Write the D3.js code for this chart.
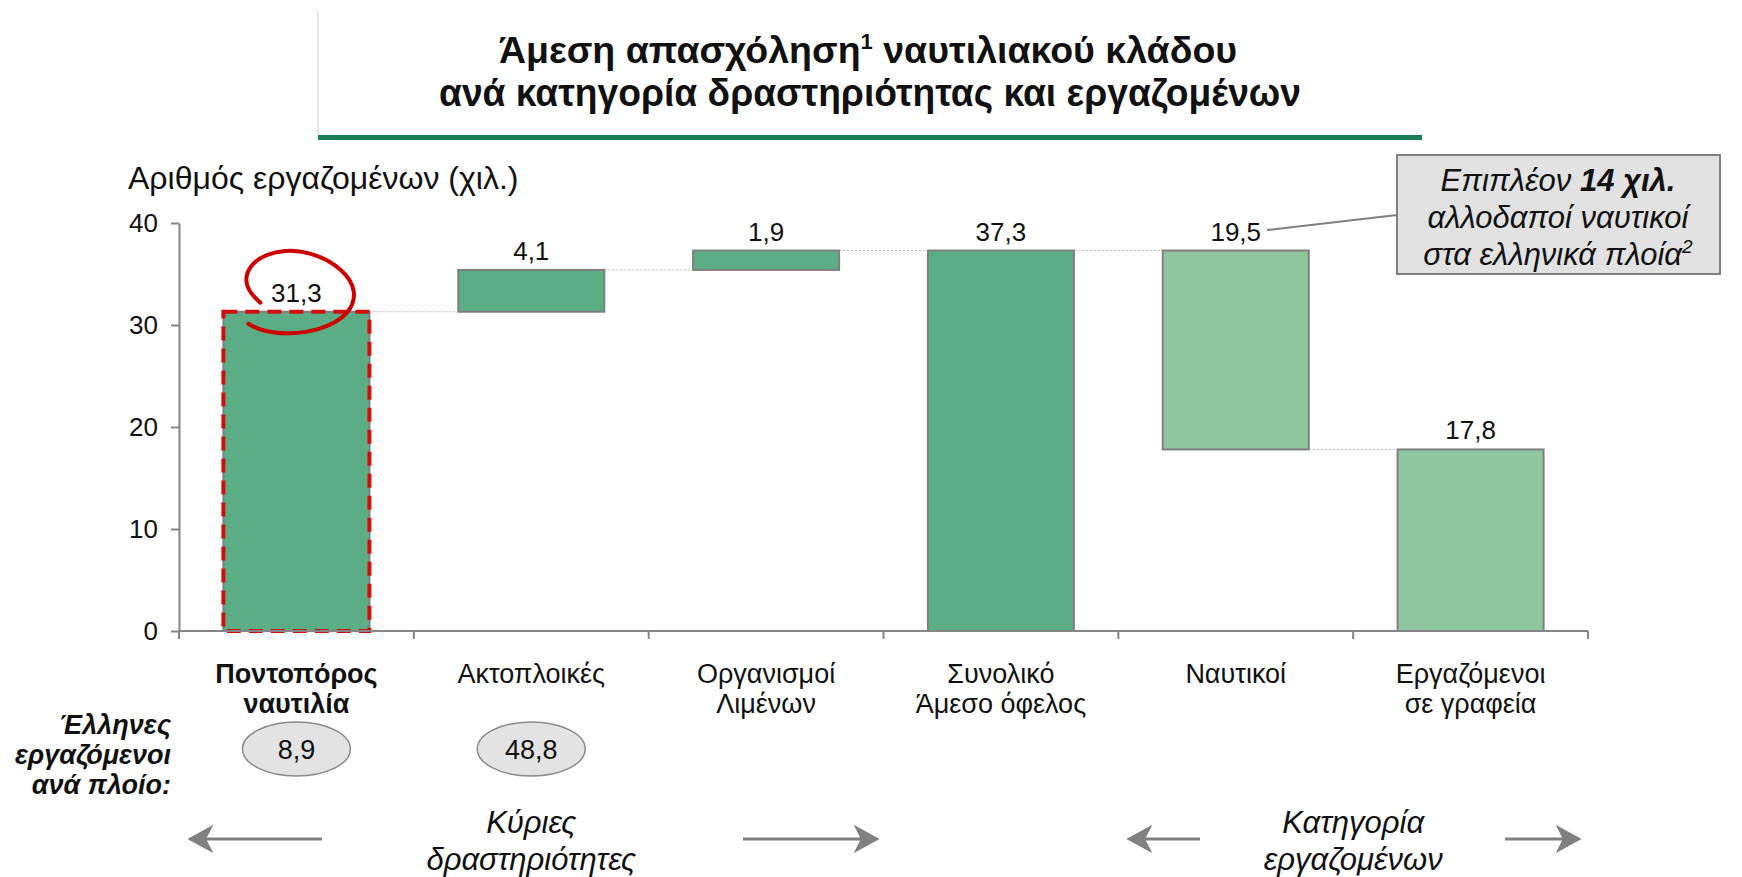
<!DOCTYPE html>
<meta charset="UTF-8">
<head>
<script src="https://cdn.jsdelivr.net/npm/d3@7"></script>
</head>
<style>
body { margin: 0; background: #fff; }
text { font-family: "Liberation Sans", Arial, sans-serif; fill: #111; }
.title { font-weight: bold; font-size: 38px; }
.axis path, .axis line { stroke: #858585; stroke-width: 2px; }
.axis text { font-size: 26px; fill: #111; font-family: "Liberation Sans", Arial, sans-serif; }
.bar { stroke: #7f7f7f; stroke-width: 2px; }
.conn { stroke: #bdbdbd; stroke-width: 1px; stroke-dasharray: 2,2; }
.arrow { stroke: #808080; stroke-width: 3px; fill: none; }
</style>
<body>
<div id="chart"></div>
<script>

// data
var categories = [["Ποντοπόρος", "ναυτιλία"], ["Ακτοπλοικές"], ["Οργανισμοί", "Λιμένων"],
                  ["Συνολικό", "Άμεσο όφελος"], ["Ναυτικοί"], ["Εργαζόμενοι", "σε γραφεία"]];
var values   = [31.3, 4.1, 1.9, 37.3, -19.5, 17.8];
var barType  = ["total", "step", "step", "total", "step", "total"];
var labels   = ["31,3", "4,1", "1,9", "37,3", "19,5", "17,8"];
var perShip  = ["8,9", "48,8"];
var yTicks   = [0, 10, 20, 30, 40];

var W = 1742, H = 877;
var mLeft = 179, mRight = 1588, mTop = 223, mBottom = 631;

var svg = d3.select("#chart").append("svg")
    .attr("width", W).attr("height", H);

// title block
svg.append("line").attr("x1", 318).attr("x2", 318).attr("y1", 11).attr("y2", 134)
    .attr("stroke", "#d0d0d0").attr("stroke-width", 1);
svg.append("rect").attr("x", 318).attr("y", 135).attr("width", 1104).attr("height", 5)
    .attr("fill", "#1d7a56");
var t1 = svg.append("text").attr("class", "title").attr("x", 868).attr("y", 63)
    .attr("text-anchor", "middle").style("font-size", "37.5px");
t1.append("tspan").text("Άμεση απασχόληση");
t1.append("tspan").attr("dy", -14).style("font-size", "22px").text("1");
t1.append("tspan").attr("dy", 14).text(" ναυτιλιακού κλάδου");
svg.append("text").attr("class", "title").attr("x", 870).attr("y", 106).attr("text-anchor", "middle")
    .attr("textLength", 862).attr("lengthAdjust", "spacingAndGlyphs")
    .text("ανά κατηγορία δραστηριότητας και εργαζομένων");

// compute waterfall
var run = 0, bars = [];
values.forEach(function(v, i) {
  var b;
  if (barType[i] === "total") { b = {y0: 0, y1: v}; run = v; }
  else { b = {y0: run, y1: run + v}; run = run + v; }
  b.i = i; b.lo = Math.min(b.y0, b.y1); b.hi = Math.max(b.y0, b.y1);
  bars.push(b);
});

var x = d3.scaleBand().domain(d3.range(categories.length)).range([mLeft, mRight])
    .paddingInner(0.378).paddingOuter(0.189);
var y = d3.scaleLinear().domain([0, 40]).range([mBottom, mTop]);
var cx = function(i) { return x(i) + x.bandwidth() / 2; };

svg.append("text").attr("x", 128).attr("y", 189).style("font-size", "32px")
    .text("Αριθμός εργαζομένων (χιλ.)");

// y axis
svg.append("g").attr("class", "axis").attr("transform", "translate(" + mLeft + ",0)")
    .call(d3.axisLeft(y).tickValues(yTicks).tickSize(8).tickSizeOuter(0).tickPadding(13));

// connectors
for (var i = 0; i < bars.length - 1; i++) {
  var lvl = barType[i + 1] === "step" ? bars[i + 1].y0 : bars[i + 1].y1;
  svg.append("line").attr("class", "conn")
    .attr("x1", x(i) + x.bandwidth()).attr("x2", x(i + 1))
    .attr("y1", y(lvl)).attr("y2", y(lvl));
}

// bars
svg.selectAll("rect.bar").data(bars).enter().append("rect")
    .attr("class", "bar")
    .attr("x", function(d) { return x(d.i); })
    .attr("width", x.bandwidth())
    .attr("y", function(d) { return y(d.hi); })
    .attr("height", function(d) { return y(d.lo) - y(d.hi); })
    .attr("fill", function(d) { return d.i >= 4 ? "#8fc6a0" : "#5aad84"; });

// red dashed highlight on first bar
svg.append("rect")
    .attr("x", x(0)).attr("width", x.bandwidth())
    .attr("y", y(bars[0].hi)).attr("height", y(0) - y(bars[0].hi))
    .attr("fill", "none").attr("stroke", "#d01010").attr("stroke-width", 4)
    .attr("stroke-dasharray", "14,8");

// x axis
svg.append("line").attr("x1", mLeft).attr("x2", mRight).attr("y1", mBottom).attr("y2", mBottom)
    .attr("stroke", "#858585").attr("stroke-width", 2);
svg.selectAll("line.sep").data(d3.range(categories.length + 1)).enter().append("line")
    .attr("class", "sep")
    .attr("x1", function(d) { return mLeft + d * x.step(); })
    .attr("x2", function(d) { return mLeft + d * x.step(); })
    .attr("y1", mBottom).attr("y2", mBottom + 8)
    .attr("stroke", "#858585").attr("stroke-width", 2);

// value labels
svg.selectAll("text.val").data(bars).enter().append("text")
    .attr("class", "val")
    .attr("x", function(d) { return cx(d.i); })
    .attr("y", function(d) { return y(d.hi) - 10; })
    .attr("text-anchor", "middle").style("font-size", "26px")
    .text(function(d) { return labels[d.i]; });

// hand-drawn red circle around first label
var rx0 = cx(0), ry0 = y(bars[0].hi);
var loop = [[-36, -9], [-52, -24], [-49, -47], [-22, -62], [14, -61], [47, -43], [61, -20],
            [53, 3], [26, 18], [-8, 23], [-36, 19], [-48, 12]];
svg.append("path")
    .attr("d", d3.line().curve(d3.curveBasis)(loop.map(function(p) { return [rx0 + p[0], ry0 + p[1]]; })))
    .attr("fill", "none").attr("stroke", "#cc0000").attr("stroke-width", 4).attr("stroke-linecap", "round");

// category labels
categories.forEach(function(c, i) {
  var tx = svg.append("text").attr("y", 683)
      .attr("text-anchor", "middle").style("font-size", "27px")
      .style("font-weight", i === 0 ? "bold" : "normal");
  c.forEach(function(s, k) {
    tx.append("tspan").attr("x", cx(i)).attr("dy", k ? 30 : 0).text(s);
  });
});

// greek workers per ship
var side = svg.append("text").attr("y", 734).attr("text-anchor", "end")
    .style("font-size", "27px").style("font-weight", "bold").style("font-style", "italic");
["Έλληνες", "εργαζόμενοι", "ανά πλοίο:"].forEach(function(s, k) {
  side.append("tspan").attr("x", 171).attr("dy", k ? 30 : 0).text(s);
});
perShip.forEach(function(v, i) {
  svg.append("ellipse").attr("cx", cx(i)).attr("cy", 749).attr("rx", 54).attr("ry", 27)
      .attr("fill", "#e3e3e3").attr("stroke", "#8a8a8a").attr("stroke-width", 1.5);
  svg.append("text").attr("x", cx(i)).attr("y", 759).attr("text-anchor", "middle")
      .style("font-size", "27px").text(v);
});

// callout
svg.append("line").attr("x1", 1267).attr("y1", 230).attr("x2", 1397).attr("y2", 215)
    .attr("stroke", "#7f7f7f").attr("stroke-width", 2);
svg.append("rect").attr("x", 1397).attr("y", 155).attr("width", 323).attr("height", 119)
    .attr("fill", "#e2e2e2").attr("stroke", "#7f7f7f").attr("stroke-width", 2);
var call = svg.append("text").attr("text-anchor", "middle").style("font-size", "31px").style("font-style", "italic");
var l1 = call.append("tspan").attr("x", 1558).attr("y", 191);
l1.append("tspan").text("Επιπλέον ");
l1.append("tspan").style("font-weight", "bold").text("14 χιλ.");
call.append("tspan").attr("x", 1558).attr("y", 228).text("αλλοδαποί ναυτικοί");
var l3 = call.append("tspan").attr("x", 1558).attr("y", 265);
l3.append("tspan").text("στα ελληνικά πλοία");
l3.append("tspan").attr("dy", -12).style("font-size", "19px").text("2");

// group labels with arrows
svg.append("defs").append("marker").attr("id", "ah").attr("viewBox", "0 0 10 11")
    .attr("refX", 9).attr("refY", 5.5).attr("markerWidth", 26).attr("markerHeight", 29)
    .attr("markerUnits", "userSpaceOnUse").attr("orient", "auto")
  .append("path").attr("d", "M0,0 L10,5.5 L0,11 L2.8,5.5 Z").attr("fill", "#808080");

function groupLabel(cxp, lines, a1, a2) {
  var g = svg.append("text").attr("text-anchor", "middle").style("font-size", "31px").style("font-style", "italic");
  lines.forEach(function(s, k) { g.append("tspan").attr("x", cxp).attr("y", 833 + k * 37).text(s); });
  [a1, a2].forEach(function(a) {
    svg.append("line").attr("class", "arrow").attr("x1", a[0]).attr("x2", a[1]).attr("y1", 839).attr("y2", 839)
        .attr("marker-end", "url(#ah)");
  });
}
groupLabel(cx(1), ["Κύριες", "δραστηριότητες"], [322, 190], [743, 877]);
groupLabel(mLeft + 5 * x.step(), ["Κατηγορία", "εργαζομένων"], [1200, 1129], [1505, 1579]);

</script>
</body>
